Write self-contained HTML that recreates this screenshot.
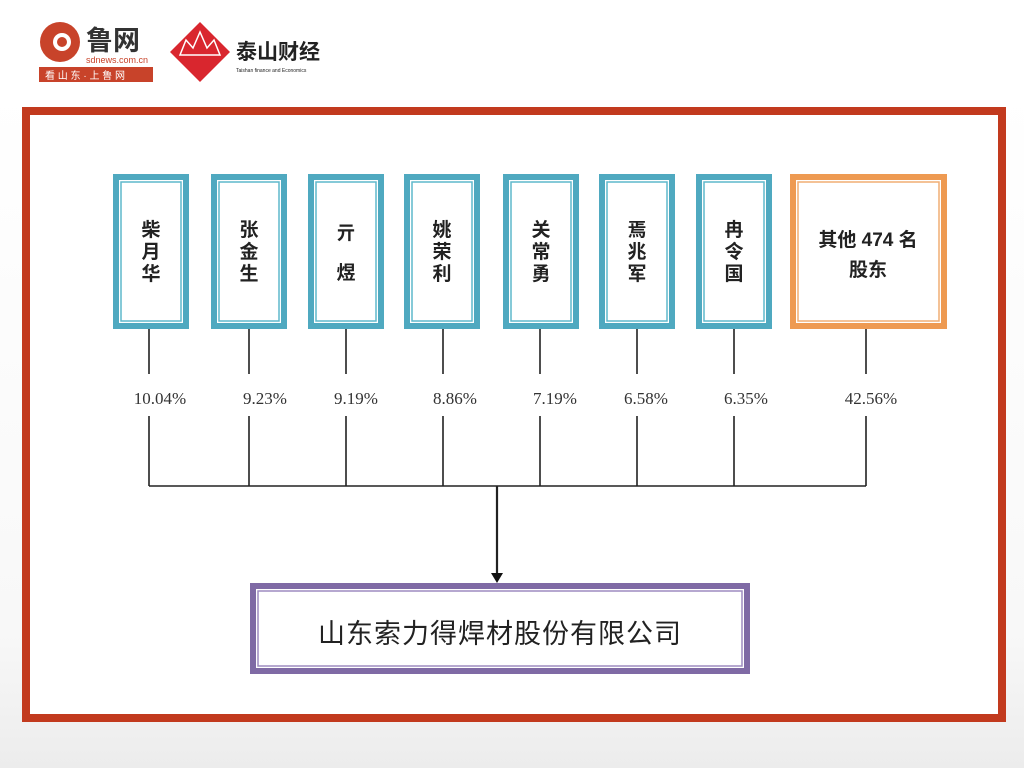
<!DOCTYPE html>
<html><head><meta charset="utf-8"><style>
body{margin:0;width:1024px;height:768px;background:#fff;overflow:hidden;position:relative;font-family:"Liberation Sans","Noto Sans CJK SC",sans-serif}
</style></head><body>
<svg width="1024" height="768" style="position:absolute;left:0;top:0" font-family="Liberation Sans, Noto Sans CJK SC, sans-serif">
<defs><linearGradient id="g" x1="0" y1="0" x2="0" y2="1"><stop offset="0" stop-color="#fff"/><stop offset="0.8" stop-color="#f8f8f8"/><stop offset="1" stop-color="#ececec"/></linearGradient></defs>
<rect x="0" y="88" width="1024" height="680" fill="url(#g)"/>
<!-- logos -->
<circle cx="60" cy="42" r="20" fill="#c8432a"/><circle cx="62" cy="42" r="9" fill="#fff"/><circle cx="62" cy="42" r="5" fill="#c8432a"/>
<text x="86" y="50" font-size="27" font-weight="bold" fill="#333">鲁网</text>
<text x="86" y="63" font-size="9" fill="#c8432a">sdnews.com.cn</text>
<rect x="39" y="67" width="114" height="15" fill="#c8432a"/>
<text x="45" y="79" font-size="10" fill="#fff">看 山 东 · 上 鲁 网</text>
<polygon points="200,22 230,52 200,82 170,52" fill="#d9262e"/>
<polygon points="180,55 186,40 193,48 200,32 207,48 214,40 220,55" fill="none" stroke="#fff" stroke-width="1.5"/>
<text x="236" y="59" font-size="21" font-weight="bold" fill="#222">泰山财经</text>
<text x="236" y="72" font-size="5" fill="#222">Taishan finance and Economics</text>
<!-- frame -->
<rect x="30" y="115" width="968" height="599" fill="#fff"/>
<rect x="26" y="111" width="976" height="607" fill="none" stroke="#c23a1e" stroke-width="8"/>
<g fill="#fff">
<g stroke="#4fa9c0">
<rect x="116" y="177" width="70" height="149" stroke-width="6"/><rect x="214" y="177" width="70" height="149" stroke-width="6"/><rect x="311" y="177" width="70" height="149" stroke-width="6"/><rect x="407" y="177" width="70" height="149" stroke-width="6"/><rect x="506" y="177" width="70" height="149" stroke-width="6"/><rect x="602" y="177" width="70" height="149" stroke-width="6"/><rect x="699" y="177" width="70" height="149" stroke-width="6"/>
</g>
<g stroke="#5fb8cc" stroke-width="1.5">
<rect x="121" y="182" width="60" height="139"/><rect x="219" y="182" width="60" height="139"/><rect x="316" y="182" width="60" height="139"/><rect x="412" y="182" width="60" height="139"/><rect x="511" y="182" width="60" height="139"/><rect x="607" y="182" width="60" height="139"/><rect x="704" y="182" width="60" height="139"/>
</g>
<rect x="793" y="177" width="151" height="149" stroke="#ee9a52" stroke-width="6"/>
<rect x="798" y="182" width="141" height="139" stroke="#f1ad74" stroke-width="1.5"/>
<rect x="253" y="586" width="494" height="85" stroke="#7f6aa5" stroke-width="6"/>
<rect x="258" y="591" width="484" height="75" stroke="#9e8cc0" stroke-width="1.5"/>
</g>
<g font-size="19" fill="#222" text-anchor="middle" font-weight="bold">
<text x="151" y="236">柴</text><text x="151" y="258">月</text><text x="151" y="280">华</text>
<text x="249" y="236">张</text><text x="249" y="258">金</text><text x="249" y="280">生</text>
<text x="346" y="239">亓</text><text x="346" y="279">煜</text>
<text x="442" y="236">姚</text><text x="442" y="258">荣</text><text x="442" y="280">利</text>
<text x="541" y="236">关</text><text x="541" y="258">常</text><text x="541" y="280">勇</text>
<text x="637" y="236">焉</text><text x="637" y="258">兆</text><text x="637" y="280">军</text>
<text x="734" y="236">冉</text><text x="734" y="258">令</text><text x="734" y="280">国</text>
<text x="868" y="246">其他 474 名</text><text x="868" y="276">股东</text>
</g>
<text x="500" y="643" font-size="27" fill="#222" text-anchor="middle" letter-spacing="1">山东索力得焊材股份有限公司</text>
<g stroke="#222" stroke-width="1.6" fill="none">
<path d="M149 329V374M149 416V486M249 329V374M249 416V486M346 329V374M346 416V486M443 329V374M443 416V486M540 329V374M540 416V486M637 329V374M637 416V486M734 329V374M734 416V486M866 329V374M866 416V486M149 486H866"/>
<path d="M497 486V574" stroke-width="2.2"/>
</g>
<polygon points="491,573 503,573 497,583" fill="#111"/>
<g font-family="Liberation Serif, serif" font-size="17" fill="#333" text-anchor="middle">
<text x="160" y="404">10.04%</text><text x="265" y="404">9.23%</text><text x="356" y="404">9.19%</text><text x="455" y="404">8.86%</text><text x="555" y="404">7.19%</text><text x="646" y="404">6.58%</text><text x="746" y="404">6.35%</text><text x="871" y="404">42.56%</text>
</g>
</svg>
</body></html>
